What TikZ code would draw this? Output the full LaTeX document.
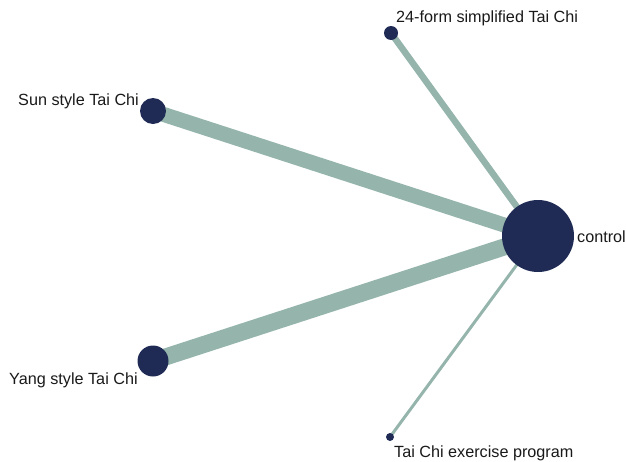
\documentclass[tikz,border=0pt]{standalone}
\usepackage{fontspec}
\setmainfont{Liberation Sans}
\definecolor{edgecol}{HTML}{95B5AC}
\definecolor{nodecol}{HTML}{1F2B55}
\begin{document}
\begin{tikzpicture}[x=1pt,y=-1pt,
  dot/.style={circle,fill=nodecol,inner sep=0pt,minimum size=#1},
  lab/.style={font=\fontsize{16.2pt}{19pt}\selectfont,inner sep=0pt,text=black!90},
  link/.style={draw=edgecol,line width=#1}]
\useasboundingbox (0,0) rectangle (626,461);
\coordinate (ctr) at (538,236);
\coordinate (p24) at (391,33);
\coordinate (psun) at (153,111);
\coordinate (pyang) at (153,361);
\coordinate (pex) at (390,437);
\draw[link=6.5pt] (p24) -- (ctr);
\draw[link=15pt] (psun) -- (ctr);
\draw[link=17pt] (pyang) -- (ctr);
\draw[link=3pt] (pex) -- (ctr);
\node[dot=72pt] (control) at (ctr) {};
\node[dot=14pt] (f24) at (p24) {};
\node[dot=26pt] (sun) at (psun) {};
\node[dot=31pt] (yang) at (pyang) {};
\node[dot=8pt] (ex) at (pex) {};
\node[lab,anchor=west] (lcontrol) at (577,237) {control};
\node[lab,anchor=west] (l24) at (396,18) {24-form simplified Tai Chi};
\node[lab,anchor=west] (lsun) at (18,101) {Sun style Tai Chi};
\node[lab,anchor=west] (lyang) at (9,380) {Yang style Tai Chi};
\node[lab,anchor=west] (lex) at (394,453) {Tai Chi exercise program};
\end{tikzpicture}
\end{document}
